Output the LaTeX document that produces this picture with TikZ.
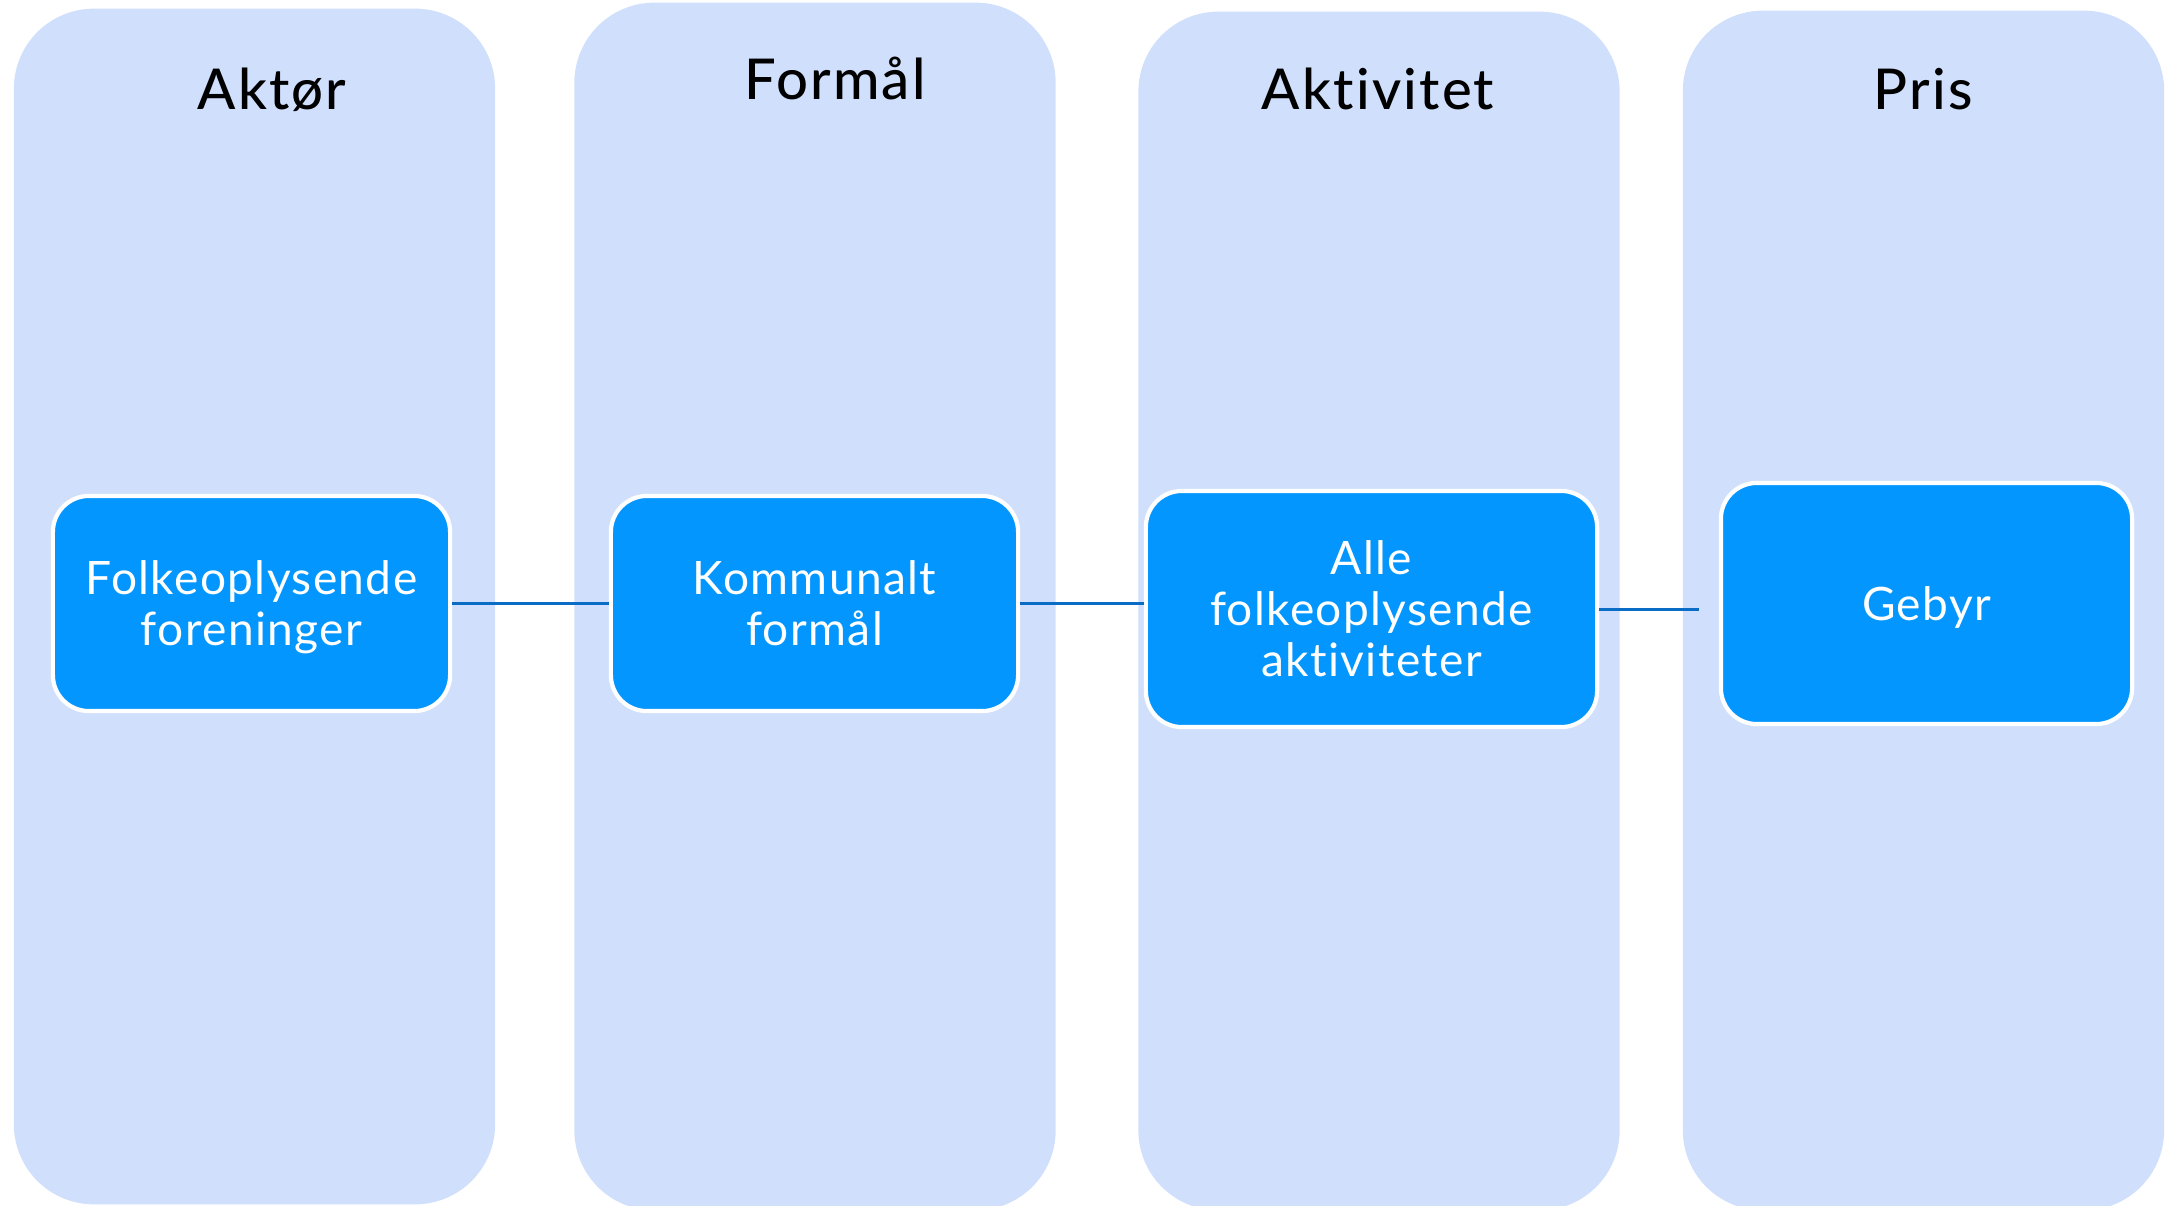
\documentclass[tikz,border=0pt]{standalone}
\usepackage{fontspec}
\setmainfont{Lato}[LetterSpace=3, Ligatures=NoCommon]
\newfontfamily\headfont{Lato Medium}[LetterSpace=4, Ligatures=NoCommon]
\usepackage{xcolor}
\usepackage{tikz}
\usetikzlibrary{positioning, calc}
\definecolor{lane}{HTML}{D0DFFC}
\definecolor{cell}{HTML}{0396FE}
\definecolor{link}{HTML}{0A6CC4}
\tikzstyle{lanebox} = [fill=lane, rounded corners=0.8cm, minimum width=4.81cm, inner sep=0pt]
\tikzstyle{title} = [anchor=base, font=\headfont\fontsize{16pt}{19pt}\selectfont, text=black]
\tikzstyle{cellbox} = [fill=cell, draw=white, line width=1.2pt, rounded corners=0.36cm, text=white, align=center, text depth=0pt, font=\fontsize{13.1pt}{14.5pt}\selectfont, inner sep=0pt]
\tikzstyle{line} = [draw=link, line width=0.85pt]

\begin{document}
\begin{tikzpicture}[x=0.01cm, y=-0.01cm]
        \useasboundingbox (0,0) rectangle (2169,1206);
        % lanes
        \node[lanebox, minimum height=11.95cm] (l1) at (254.5,606.5) {};
        \node[lanebox, minimum height=12.07cm] (l2) at (815,606.5) {};
        \node[lanebox, minimum height=11.98cm] (l3) at (1379,611) {};
        \node[lanebox, minimum height=11.99cm] (l4) at (1923.5,610.5) {};
        \node[title] (t1) at (272,109) {Aktør};
        \node[title] (t2) at (835,100) {Formål};
        \node[title] (t3) at (1378,109) {Aktivitet};
        \node[title] (t4) at (1923,109) {Pris};
        % cells
        \node[cellbox, minimum width=3.97cm, minimum height=2.15cm] (c1) at (251.5,603.5) {Folkeoplysende\\foreninger};
        \node[cellbox, minimum width=4.07cm, minimum height=2.15cm] (c2) at (814.5,603.5) {Kommunalt\\formål};
        \node[cellbox, minimum width=4.51cm, minimum height=2.36cm] (c3) at (1371.5,609) {Alle\\folkeoplysende\\aktiviteter};
        \node[cellbox, minimum width=4.11cm, minimum height=2.41cm] (c4) at (1926.5,603.5) {Gebyr};
        \coordinate (end) at (1699,609);
        \draw[line] (c1.east) -- (c1.east -| c2.west);
        \draw[line] (c2.east) -- (c2.east -| c3.west);
        \draw[line] (c3.east |- end) -- (end);
    \end{tikzpicture}
\end{document}
